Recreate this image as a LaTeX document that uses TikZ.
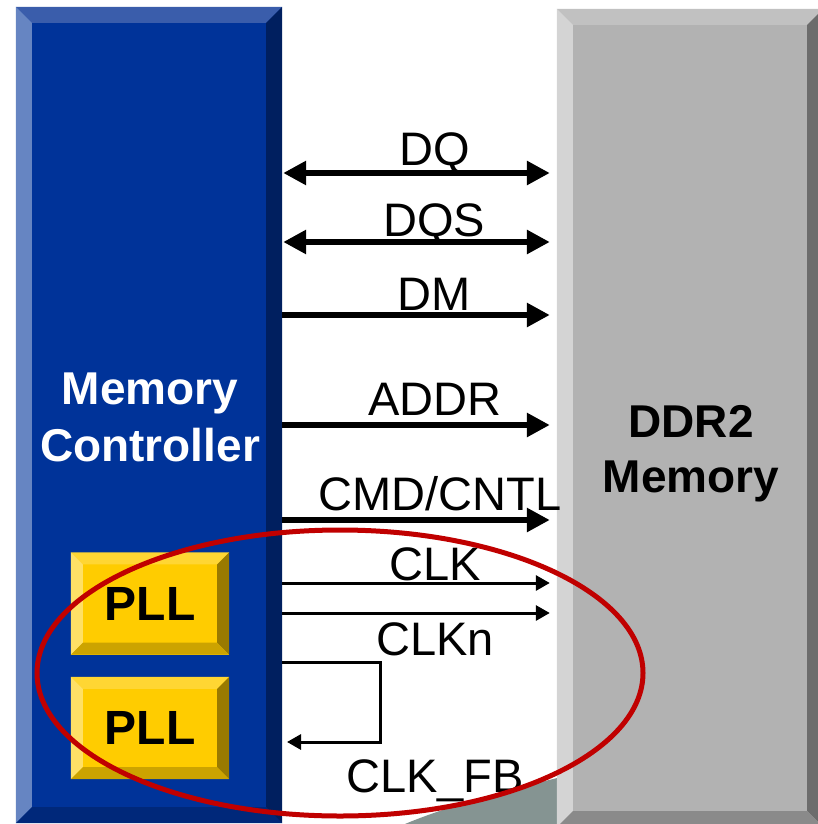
\documentclass[tikz,border=0pt]{standalone}
\usepackage{fontspec}
\setmainfont{Liberation Sans}
\usepackage{tikz}
\usetikzlibrary{arrows.meta, positioning, calc}

\definecolor{mcFace}{HTML}{003399}
\definecolor{mcTop}{HTML}{3A5DAB}
\definecolor{mcLeft}{HTML}{6685C2}
\definecolor{mcRight}{HTML}{001F5F}
\definecolor{mcBottom}{HTML}{00287A}
\definecolor{ddrFace}{HTML}{B2B2B2}
\definecolor{ddrTop}{HTML}{C1C1C1}
\definecolor{ddrLeft}{HTML}{D4D4D4}
\definecolor{ddrRight}{HTML}{6C6C6C}
\definecolor{ddrBottom}{HTML}{8A8A8A}
\definecolor{pllFace}{HTML}{FFCC00}
\definecolor{pllTop}{HTML}{FFD633}
\definecolor{pllLeft}{HTML}{FFE066}
\definecolor{pllRight}{HTML}{997A00}
\definecolor{pllBottom}{HTML}{CCA300}
\definecolor{ringRed}{HTML}{C00000}
\definecolor{patchGray}{HTML}{859492}

% bevelled edges round a node: node, bevel, top, left, right, bottom
\newcommand{\bevel}[6]{%
  \fill[#3] (#1.north west) -- (#1.north east) -- ([xshift=-#2pt,yshift=-#2pt]#1.north east) -- ([xshift=#2pt,yshift=-#2pt]#1.north west) -- cycle;
  \fill[#4] (#1.north west) -- ([xshift=#2pt,yshift=-#2pt]#1.north west) -- ([xshift=#2pt,yshift=#2pt]#1.south west) -- (#1.south west) -- cycle;
  \fill[#5] (#1.north east) -- ([xshift=-#2pt,yshift=-#2pt]#1.north east) -- ([xshift=-#2pt,yshift=#2pt]#1.south east) -- (#1.south east) -- cycle;
  \fill[#6] (#1.south west) -- ([xshift=#2pt,yshift=#2pt]#1.south west) -- ([xshift=-#2pt,yshift=#2pt]#1.south east) -- (#1.south east) -- cycle;}

\begin{document}
\begin{tikzpicture}[
  x=1pt, y=-1pt,
  blockbox/.style={inner sep=0pt, minimum width=266pt},
  pllbox/.style={fill=pllFace, inner sep=0pt, minimum width=158pt, minimum height=102pt, font=\fontsize{47}{56}\selectfont\bfseries},
  title/.style={align=center, inner sep=0pt, font=\fontsize{46}{57}\selectfont\bfseries},
  sig/.style={anchor=base, inner sep=0pt, font=\fontsize{47}{56}\selectfont},
  bus/.style={line width=6pt, -{Triangle[length=23pt, width=23pt]}},
  bibus/.style={line width=6pt, {Triangle[length=23pt, width=23pt]}-{Triangle[length=23pt, width=23pt]}},
  clk/.style={line width=3pt, -{Triangle[length=14pt, width=15pt]}},
  ring/.style={draw=ringRed, line width=5pt}
]
  \useasboundingbox (0,0) rectangle (818,824);

  % stray photo corner at the bottom
  \fill[patchGray] (405,824) .. controls (450,805) and (510,790) .. (557,778) -- (557,824) -- cycle;

  % Memory controller
  \node[blockbox, fill=mcFace, minimum height=816pt] (mc) at (149,415) {};
  \bevel{mc}{16}{mcTop}{mcLeft}{mcRight}{mcBottom}
  \node[title, text=white] (mcname) at (150,417) {Memory\\Controller};

  % DDR2 memory
  \node[blockbox, fill=ddrFace, minimum height=818pt] (ddr) at (690,418) {};
  \bevel{ddr}{16}{ddrTop}{ddrLeft}{ddrRight}{ddrBottom}
  \node[title, font=\fontsize{46}{55}\selectfont\bfseries] (ddrname) at (691,454) {DDR2\\Memory};

  % PLLs
  \node[pllbox] (pll1) at (150,603.5) {};
  \bevel{pll1}{12}{pllTop}{pllLeft}{pllRight}{pllBottom}
  \node[inner sep=0pt, font=\fontsize{48}{56}\selectfont\bfseries] (pll1name) at (pll1.center) {PLL};
  \node[pllbox] (pll2) at (150,728) {};
  \bevel{pll2}{12}{pllTop}{pllLeft}{pllRight}{pllBottom}
  \node[inner sep=0pt, font=\fontsize{48}{56}\selectfont\bfseries] (pll2name) at (pll2.center) {PLL};

  % end of the signals, short of the memory
  \coordinate (ddrin) at ([xshift=-7pt]ddr.west);
  \coordinate (fbturn) at (380,742);
  \coordinate (fbin) at (287,742);

  % Signals
  \draw[bibus] ([xshift=1pt]mc.east |- 0,173) -- (ddrin |- 0,173);
  \draw[bibus] ([xshift=1pt]mc.east |- 0,242) -- (ddrin |- 0,242);
  \draw[bus] (mc.east |- 0,315) -- (ddrin |- 0,315);
  \draw[bus] (mc.east |- 0,425) -- (ddrin |- 0,425);
  \draw[bus] (mc.east |- 0,520) -- (ddrin |- 0,520);
  \draw[clk] (mc.east |- 0,583) -- (ddrin |- 0,583);
  \draw[clk] (mc.east |- 0,613) -- (ddrin |- 0,613);
  \draw[clk] (mc.east |- 0,662) -| (fbturn) -- (fbin);

  % Labels
  \node[sig] (lblDQ) at (435,165) {DQ};
  \node[sig] (lblDQS) at (434,236) {DQS};
  \node[sig] (lblDM) at (434,310) {DM};
  \node[sig] (lblADDR) at (435,415) {ADDR};
  \node[sig] (lblCMD) at (440,510) {CMD/CNTL};
  \node[sig] (lblCLK) at (435,580) {CLK};
  \node[sig] (lblCLKn) at (435,655) {CLKn};
  \node[sig] (lblFB) at (435,792) {CLK\_FB};

  % clocking highlighted
  \draw[ring] (340,673) ellipse [x radius=303pt, y radius=143pt];
\end{tikzpicture}
\end{document}
